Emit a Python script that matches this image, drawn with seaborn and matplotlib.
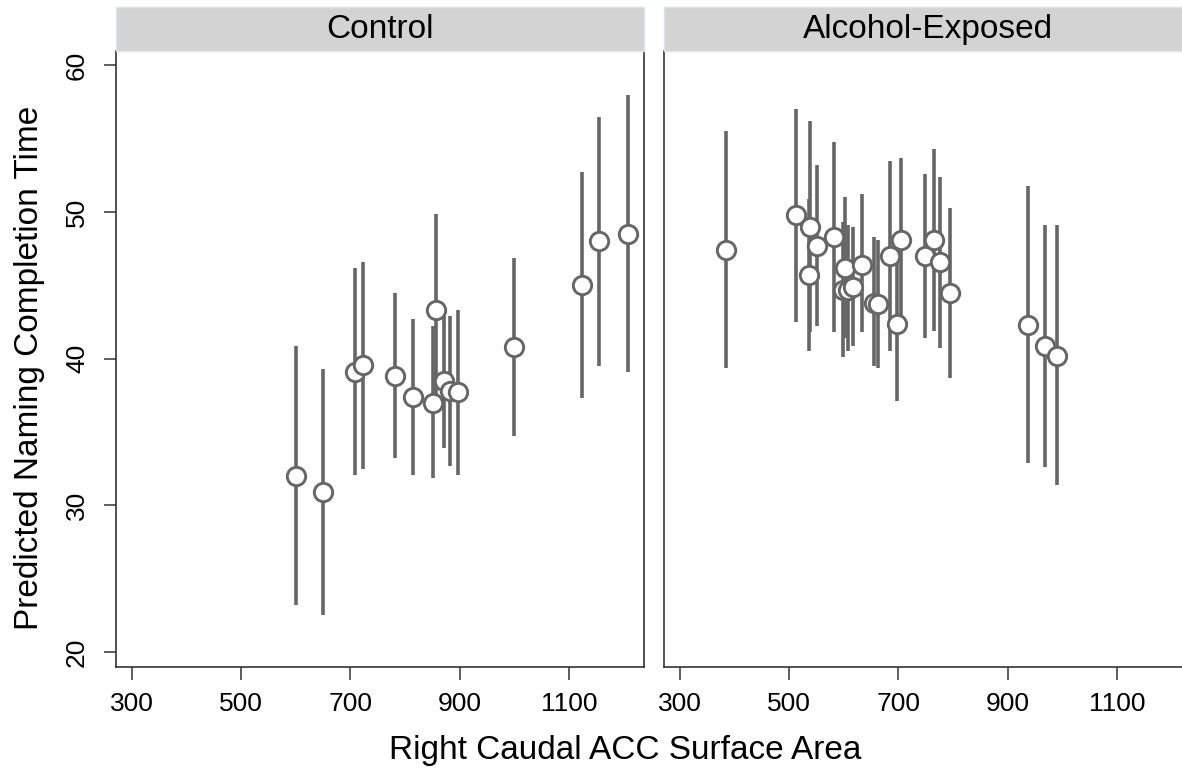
import numpy as np
import pandas as pd
import seaborn as sns
import matplotlib.pyplot as plt
from matplotlib.patches import Rectangle

# Control group: surface area, predicted time, 95% CI
ctrl_area = [601, 650, 708, 722, 782, 815, 851, 856, 871, 882, 897, 1000, 1124, 1155, 1207]
ctrl_pred = [32.0, 30.9, 39.1, 39.6, 38.8, 37.4, 37.0, 43.3, 38.5, 37.8, 37.7, 40.8, 45.0, 48.0, 48.5]
ctrl_lo = [23.2, 22.5, 32.1, 32.5, 33.2, 32.1, 31.9, 36.7, 33.9, 32.7, 32.1, 34.7, 37.3, 39.5, 39.1]
ctrl_hi = [40.9, 39.3, 46.2, 46.6, 44.5, 42.7, 42.2, 49.9, 42.9, 42.9, 43.3, 46.9, 52.7, 56.5, 58.0]

# Alcohol-exposed group
alc_area = [385, 512, 538, 536, 551, 582, 602, 598, 608, 618, 634, 655, 662,
            684, 698, 704, 748, 765, 776, 795, 938, 968, 991]
alc_pred = [47.4, 49.8, 49.0, 45.7, 47.7, 48.3, 46.2, 44.7, 44.7, 44.9, 46.4, 43.8, 43.7,
            47.0, 42.4, 48.1, 47.0, 48.1, 46.6, 44.5, 42.3, 40.9, 40.2]
alc_lo = [39.4, 42.5, 41.8, 40.5, 42.2, 41.8, 41.4, 40.1, 40.5, 40.9, 41.8, 39.5, 39.4,
          40.5, 37.1, 42.5, 41.4, 41.9, 40.7, 38.7, 32.9, 32.6, 31.4]
alc_hi = [55.5, 57.0, 56.2, 50.9, 53.2, 54.8, 51.0, 49.3, 49.1, 49.0, 51.2, 48.3, 48.1,
          53.5, 47.7, 53.7, 52.6, 54.3, 52.4, 50.3, 51.8, 49.1, 49.1]

groups = ["Control", "Alcohol-Exposed"]
xticks = [300, 500, 700, 900, 1100]
yticks = [20, 30, 40, 50, 60]

df = pd.concat([
    pd.DataFrame({"group": groups[0], "area": ctrl_area, "pred": ctrl_pred, "lo": ctrl_lo, "hi": ctrl_hi}),
    pd.DataFrame({"group": groups[1], "area": alc_area, "pred": alc_pred, "lo": alc_lo, "hi": alc_hi}),
])

sns.set_style("white")
plt.rcParams["font.family"] = ["Liberation Sans", "DejaVu Sans"]
plt.rcParams["text.color"] = "black"
plt.rcParams["xtick.color"] = "black"
plt.rcParams["ytick.color"] = "black"

W, H = 1182, 771
fig = plt.figure(figsize=(W / 100, H / 100), dpi=100)
ax_top, ax_bot = 50.7, 666.7
pos = [(116, 644), (663.7, 1192)]
axes = []
for i, (x0, x1) in enumerate(pos):
    ax = fig.add_axes([x0 / W, 1 - ax_bot / H, (x1 - x0) / W, (ax_bot - ax_top) / H],
                      sharey=axes[0] if axes else None)
    axes.append(ax)

bar_col = "#666666"
spine_col = "#333333"
for ax, name in zip(axes, groups):
    sub = df[df["group"] == name]
    ax.vlines(sub["area"], sub["lo"], sub["hi"], colors=bar_col, lw=2.6, zorder=2)
    sns.scatterplot(data=sub, x="area", y="pred", ax=ax, s=175, marker="o",
                    facecolor="white", edgecolor=bar_col, linewidth=2.1, zorder=3, legend=False)
    ax.set_xlim(271, 1237)
    ax.set_ylim(19.0, 61.0)
    ax.set_xticks(xticks)
    ax.set_xlabel("")
    ax.set_ylabel("")
    ax.spines["top"].set_visible(False)
    for s in ["left", "right", "bottom"]:
        ax.spines[s].set_color(spine_col)
        ax.spines[s].set_linewidth(1.2)
    ax.tick_params(axis="x", bottom=True, length=9, width=1.1, color=spine_col,
                   labelsize=19, labelcolor="black", pad=9)
    # facet strip
    ax.add_patch(Rectangle((0, 1), 1, 44 / (ax_bot - ax_top), transform=ax.transAxes,
                           facecolor="#d3d3d3", edgecolor="#dbe4ea", lw=1, clip_on=False, zorder=5))
    ax.text(0.5, 1 + 21 / (ax_bot - ax_top), name, transform=ax.transAxes, ha="center",
            va="center", fontsize=24, color="black", zorder=6)

axes[0].set_yticks(yticks)
axes[0].tick_params(axis="y", left=True, length=8.5, width=1.1, color=spine_col,
                    labelsize=19, labelcolor="black", pad=11, labelrotation=90)
for lbl in axes[0].get_yticklabels():
    lbl.set_va("center")
axes[1].tick_params(axis="y", left=False, labelleft=False)

fig.text(30 / W, 1 - 367.5 / H, "Predicted Naming Completion Time", rotation=90,
         ha="center", va="center", fontsize=24, color="black")
fig.text(625 / W, 1 - 751 / H, "Right Caudal ACC Surface Area", ha="center",
         va="center", fontsize=24, color="black")

fig.savefig("out.png", dpi=100)
